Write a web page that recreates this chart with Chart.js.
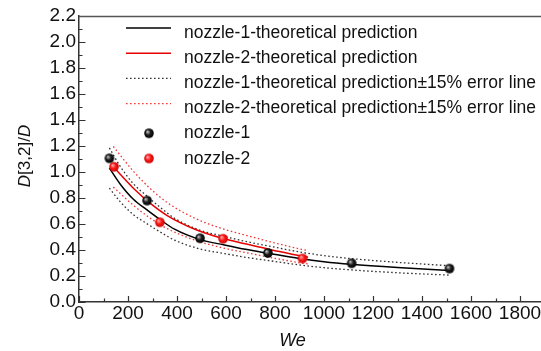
<!DOCTYPE html>
<html><head><meta charset="utf-8">
<script src="https://cdn.jsdelivr.net/npm/chart.js@4.4.1/dist/chart.umd.min.js"></script>
<style>html,body{margin:0;padding:0;overflow:hidden;background:#fff}canvas{display:block}</style>
</head><body>
<canvas id="c" width="560" height="351"></canvas>
<script>
// ---- data ----
const xTickValues = [0, 200, 400, 600, 800, 1000, 1200, 1400, 1600, 1800];
const yTickValues = [0.0, 0.2, 0.4, 0.6, 0.8, 1.0, 1.2, 1.4, 1.6, 1.8, 2.0, 2.2];

const weTheory1   = [124, 167, 222, 276, 330, 390, 494, 590, 680, 773, 900, 1000, 1110, 1300, 1510];
const theory1     = [1.03, 0.91, 0.79, 0.71, 0.635, 0.56, 0.48, 0.44, 0.405, 0.375, 0.335, 0.31, 0.29, 0.265, 0.243];
const theory1Up   = [1.185, 1.047, 0.909, 0.817, 0.730, 0.644, 0.552, 0.506, 0.466, 0.431, 0.385, 0.357, 0.334, 0.305, 0.279];
const theory1Down = [0.876, 0.774, 0.672, 0.604, 0.540, 0.476, 0.408, 0.374, 0.344, 0.319, 0.285, 0.264, 0.247, 0.225, 0.207];

const weTheory2   = [140, 222, 290, 360, 473, 585, 678, 800, 910, 935];
const theory2     = [1.04, 0.875, 0.76, 0.665, 0.56, 0.49, 0.448, 0.395, 0.352, 0.345];
const theory2Up   = [1.196, 1.006, 0.874, 0.765, 0.644, 0.564, 0.515, 0.454, 0.405, 0.397];
const theory2Down = [0.884, 0.744, 0.646, 0.565, 0.476, 0.417, 0.381, 0.336, 0.299, 0.293];

const weNozzle1  = [124, 278, 494, 771, 1113, 1512];
const d32Nozzle1 = [1.105, 0.78, 0.49, 0.377, 0.298, 0.257];
const weNozzle2  = [143, 330, 588, 912];
const d32Nozzle2 = [1.04, 0.613, 0.487, 0.335];

const labels = [
  'nozzle-1-theoretical prediction',
  'nozzle-2-theoretical prediction',
  'nozzle-1-theoretical prediction\u00B115% error line',
  'nozzle-2-theoretical prediction\u00B115% error line',
  'nozzle-1',
  'nozzle-2'
];

// ---- helpers ----
const FONT = '"Liberation Sans", Arial, sans-serif';
const TICKFONT = '"Liberation Sans Narrow", "Arial Narrow", "Liberation Sans", sans-serif';
const pts = (xs, ys) => xs.map((x, i) => ({x, y: ys[i]}));

function makeBall(c0, c1, c2) {
  const s = 12, cv = document.createElement('canvas');
  cv.width = s; cv.height = s;
  const g = cv.getContext('2d');
  const cx = s / 2, cy = s / 2, r = 4.8;
  const grad = g.createRadialGradient(cx - 1.7, cy - 1.7, 0.3, cx, cy, r);
  grad.addColorStop(0, c0);
  grad.addColorStop(0.5, c1);
  grad.addColorStop(1, c2);
  g.fillStyle = grad;
  g.beginPath(); g.arc(cx, cy, r, 0, Math.PI * 2); g.fill();
  return cv;
}
const blackBall = makeBall('#c8c8c8', '#1c1c1c', '#000000');
const redBall = makeBall('#ffb4b4', '#ff1a1a', '#cc0000');

function lineDs(label, xs, ys, color, width, dash) {
  return {
    type: 'line', label, data: pts(xs, ys),
    borderColor: color, borderWidth: width, borderDash: dash,
    pointRadius: 0, fill: false, cubicInterpolationMode: 'monotone', order: 2
  };
}

const datasets = [
  lineDs(labels[0], weTheory1, theory1, '#000000', 1.5, []),
  lineDs(labels[1], weTheory2, theory2, '#e60000', 1.5, []),
  lineDs(labels[2], weTheory1, theory1Up, '#333333', 1.3, [1.6, 2.4]),
  lineDs(labels[3], weTheory2, theory2Up, '#f03a3a', 1.3, [1.6, 2.4]),
  {type: 'scatter', label: labels[4], data: pts(weNozzle1, d32Nozzle1), pointStyle: blackBall, pointRadius: 5, order: 0},
  {type: 'scatter', label: labels[5], data: pts(weNozzle2, d32Nozzle2), pointStyle: redBall, pointRadius: 5, order: 0},
  // lower error lines (drawn, but not repeated in legend)
  lineDs('', weTheory1, theory1Down, '#333333', 1.3, [1.6, 2.4]),
  lineDs('', weTheory2, theory2Down, '#f03a3a', 1.3, [1.6, 2.4])
];

const decor = {
  id: 'decor',
  beforeDatasetsDraw(chart) {
    const {ctx, chartArea: a, scales: {x, y}} = chart;
    ctx.save();
    ctx.strokeStyle = '#333';
    ctx.lineWidth = 1.2;
    ctx.beginPath();
    for (let i = 0; i < xTickValues.length; i++) {
      const p = Math.round(x.getPixelForValue(xTickValues[i])) + 0.5;
      ctx.moveTo(p, a.bottom); ctx.lineTo(p, a.bottom - 6);
      const nextV = i + 1 < xTickValues.length ? xTickValues[i + 1] : xTickValues[i] + (xTickValues[1] - xTickValues[0]);
      const m = Math.round(x.getPixelForValue((xTickValues[i] + nextV) / 2)) + 0.5;
      if (m < a.right) { ctx.moveTo(m, a.bottom); ctx.lineTo(m, a.bottom - 3.5); }
    }
    for (let i = 0; i < yTickValues.length; i++) {
      const p = Math.round(y.getPixelForValue(yTickValues[i])) + 0.5;
      ctx.moveTo(a.left, p); ctx.lineTo(a.left + 6.5, p);
      if (i + 1 < yTickValues.length) {
        const m = Math.round(y.getPixelForValue((yTickValues[i] + yTickValues[i + 1]) / 2)) + 0.5;
        ctx.moveTo(a.left, m); ctx.lineTo(a.left + 3.5, m);
      }
    }
    ctx.stroke();
    ctx.strokeStyle = '#555';
    ctx.lineWidth = 1.3;
    ctx.beginPath();
    ctx.moveTo(a.left, a.top + 0.5); ctx.lineTo(a.right, a.top + 0.5);
    ctx.moveTo(a.right - 0.5, a.top); ctx.lineTo(a.right - 0.5, a.bottom);
    ctx.stroke();
    ctx.restore();
  },
  afterDraw(chart) {
    const {ctx, chartArea: a} = chart;
    ctx.save();
    ctx.font = '17.5px ' + FONT;
    ctx.fillStyle = '#111';
    ctx.textBaseline = 'alphabetic';
    ctx.textAlign = 'left';
    for (let i = 0; i < 6; i++) {
      const ds = chart.data.datasets[i];
      const base = a.top + 21.5 + 25.2 * i;
      if (ds.type === 'line') {
        ctx.save();
        ctx.strokeStyle = ds.borderColor;
        ctx.lineWidth = ds.borderWidth;
        ctx.setLineDash(ds.borderDash);
        ctx.beginPath();
        ctx.moveTo(126, base - 9.5); ctx.lineTo(171, base - 9.5);
        ctx.stroke();
        ctx.restore();
      } else {
        const img = ds.pointStyle;
        ctx.drawImage(img, 149 - img.width / 2, base - 5 - img.height / 2);
      }
      ctx.fillText(ds.label, 184, base);
    }
    ctx.font = 'italic 18px ' + FONT;
    ctx.textAlign = 'center';
    ctx.fillText('We', a.left + 213.5, 346);
    const parts = [['italic 17px ' + FONT, 'D'], ['17px ' + FONT, '[3,2]/'], ['italic 17px ' + FONT, 'D']];
    let total = 0;
    parts.forEach(p => { ctx.font = p[0]; total += ctx.measureText(p[1]).width; });
    ctx.translate(30, 156);
    ctx.rotate(-Math.PI / 2);
    ctx.textAlign = 'left';
    let xx = -total / 2;
    parts.forEach(p => { ctx.font = p[0]; ctx.fillText(p[1], xx, 0); xx += ctx.measureText(p[1]).width; });
    ctx.restore();
  }
};

new Chart(document.getElementById('c'), {
  type: 'scatter',
  data: {datasets},
  options: {
    responsive: false,
    animation: false,
    devicePixelRatio: 1,
    layout: {padding: {top: 16, right: 15.5, left: 0, bottom: 0}},
    plugins: {legend: {display: false}, tooltip: {enabled: false}},
    scales: {
      x: {
        type: 'linear', min: 0, max: 1900,
        afterBuildTicks: s => { s.ticks = xTickValues.map(v => ({value: v})); },
        afterFit: s => { s.height = 49; },
        grid: {display: false, drawTicks: false},
        border: {display: true, color: '#333', width: 1.5},
        ticks: {font: {family: TICKFONT, size: 19}, color: '#111', padding: 0, maxRotation: 0, autoSkip: false,
          callback: v => String(v)}
      },
      y: {
        type: 'linear', min: 0, max: 2.2,
        afterBuildTicks: s => { s.ticks = yTickValues.map(v => ({value: v})); },
        afterFit: s => { s.width = 79; },
        grid: {display: false, drawTicks: false},
        border: {display: true, color: '#333', width: 1.5},
        ticks: {font: {family: TICKFONT, size: 19}, color: '#111', padding: 3, autoSkip: false,
          callback: v => Number(v).toFixed(1)}
      }
    }
  },
  plugins: [decor]
});
</script>
</body></html>
